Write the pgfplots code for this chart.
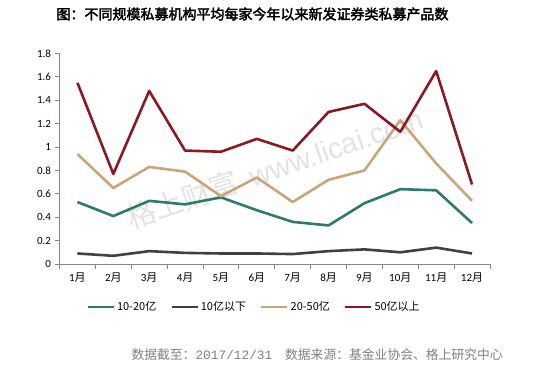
\documentclass[border=0pt]{standalone}
\usepackage{fontspec}
\setmainfont{Carlito}
\newfontfamily\cjk{Noto Sans CJK SC}
\newfontfamily\cjkb{Noto Sans CJK SC}[FakeBold=2.5]
\newfontfamily\mono{Liberation Mono}
\newfontfamily\wm{Liberation Sans}
\usepackage{pgfplots}
\pgfplotsset{compat=1.18}
\definecolor{cteal}{RGB}{46,122,110}
\definecolor{cdark}{RGB}{64,64,64}
\definecolor{ctan}{RGB}{201,166,120}
\definecolor{cred}{RGB}{139,24,34}
\definecolor{caxis}{RGB}{134,134,134}
\begin{document}
\begin{tikzpicture}
\path[use as bounding box] (0pt,0pt) rectangle (548pt,368pt);
\node[font=\cjkb\fontsize{14}{16}\selectfont] at (252.5pt,354pt) {图：不同规模私募机构平均每家今年以来新发证券类私募产品数};
\node[font=\cjk\fontsize{29}{32}\selectfont, text=black!11, rotate=19] at (275pt,200pt) {格上财富\ \ {\wm www.licai.com}};
\begin{axis}[
  at={(59.5pt,104pt)}, anchor=south west,
  scale only axis, width=430.5pt, height=210.5pt,
  xmin=0.5, xmax=12.5, ymin=0, ymax=1.8,
  axis x line*=bottom, axis y line*=left,
  axis line style={caxis, line width=0.8pt},
  xtick={1,...,12},
  xticklabels={1{\cjk 月},2{\cjk 月},3{\cjk 月},4{\cjk 月},5{\cjk 月},6{\cjk 月},7{\cjk 月},8{\cjk 月},9{\cjk 月},10{\cjk 月},11{\cjk 月},12{\cjk 月}},
  minor xtick={0.5,1.5,...,12.5},
  major x tick style={draw=none},
  minor x tick style={caxis, line width=0.8pt},
  minor tick length=5pt,
  ytick={0,0.2,...,1.8},
  y tick style={caxis, line width=0.8pt},
  major tick length=5pt,
  tick align=outside,
  yticklabel style={/pgf/number format/assume math mode=true, font=\fontsize{11}{12}\selectfont},
  xticklabel style={font=\fontsize{11}{12}\selectfont},
  y tick label style={/pgf/number format/fixed},
  every axis plot/.append style={line width=2.6pt, line join=round},
  legend columns=4,
  legend style={at={(0.452,-0.204)}, anchor=center, draw=none, fill=none,
    font=\cjk\fontsize{11}{12}\selectfont, /tikz/every even column/.append style={column sep=12pt}},
  legend image code/.code={\draw[#1] (0pt,0pt) -- (26pt,0pt);},
  clip=false,
]
\addplot[cteal] coordinates {(1,0.53)(2,0.41)(3,0.54)(4,0.51)(5,0.57)(6,0.46)(7,0.36)(8,0.33)(9,0.52)(10,0.64)(11,0.63)(12,0.35)};
\addlegendentry{10-20亿}
\addplot[cdark] coordinates {(1,0.09)(2,0.07)(3,0.11)(4,0.095)(5,0.09)(6,0.09)(7,0.085)(8,0.11)(9,0.125)(10,0.10)(11,0.14)(12,0.09)};
\addlegendentry{10亿以下}
\addplot[ctan] coordinates {(1,0.94)(2,0.65)(3,0.83)(4,0.79)(5,0.58)(6,0.74)(7,0.53)(8,0.72)(9,0.80)(10,1.23)(11,0.86)(12,0.54)};
\addlegendentry{20-50亿}
\addplot[cred] coordinates {(1,1.55)(2,0.77)(3,1.48)(4,0.97)(5,0.96)(6,1.07)(7,0.97)(8,1.30)(9,1.37)(10,1.13)(11,1.65)(12,0.68)};
\addlegendentry{50亿以上}
\end{axis}
\node[anchor=west, text=black!50, font=\cjk\fontsize{12.8}{14}\selectfont] at (128pt,13pt) {数据截至：{\mono 2017/12/31}\quad 数据来源：基金业协会、格上研究中心};
\end{tikzpicture}
\end{document}
